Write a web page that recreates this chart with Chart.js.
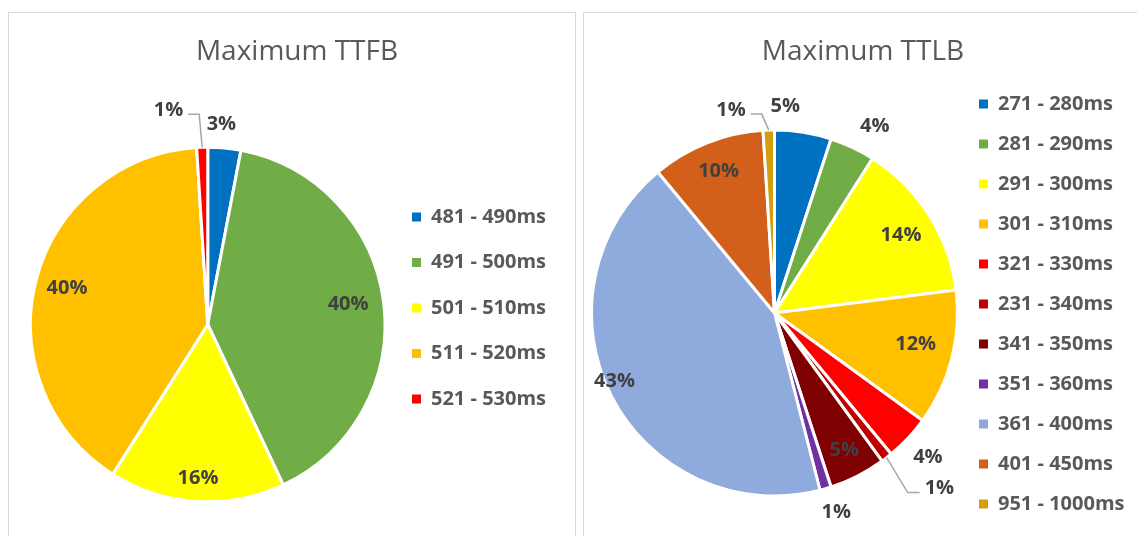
<!DOCTYPE html>
<html>
<head>
<meta charset="utf-8">
<title>Maximum TTFB / TTLB</title>
<script src="https://cdn.jsdelivr.net/npm/chart.js@4.4.1/dist/chart.umd.min.js"></script>
<style>
html, body { margin: 0; padding: 0; background: #fff; overflow: hidden; width: 1137px; height: 536px; }
.panel { position: absolute; border: 1.5px solid #d9d9d9; box-sizing: border-box; }
#p1 { left: 8px; top: 12px; width: 568px; height: 540px; }
#p2 { left: 583px; top: 12px; width: 580px; height: 540px; }
canvas { position: absolute; }
#ttfb { left: 29px; top: 13px; }
#ttlb { left: 590px; top: 13px; }
</style>
</head>
<body>
<div class="panel" id="p1"></div>
<div class="panel" id="p2"></div>
<canvas id="ttfb" width="540" height="523"></canvas>
<canvas id="ttlb" width="547" height="545"></canvas>
<script>
// данные левого круга
const ttfbLabels = ['481 - 490ms', '491 - 500ms', '501 - 510ms', '511 - 520ms', '521 - 530ms'];
const ttfbValues = [3, 40, 16, 40, 1];
const ttfbColors = ['#0070C0', '#70AD47', '#FFFF00', '#FFC000', '#FF0000'];

// данные правого круга
const ttlbLabels = ['271 - 280ms', '281 - 290ms', '291 - 300ms', '301 - 310ms', '321 - 330ms', '231 - 340ms',
                    '341 - 350ms', '351 - 360ms', '361 - 400ms', '401 - 450ms', '951 - 1000ms'];
const ttlbValues = [5, 4, 14, 12, 4, 1, 5, 1, 43, 10, 1];
const ttlbColors = ['#0070C0', '#70AD47', '#FFFF00', '#FFC000', '#FF0000', '#C00000',
                    '#7F0000', '#7030A0', '#8FAADC', '#D2601A', '#D19F0B'];

Chart.defaults.font.family = '"Open Sans", sans-serif';

// подписи процентов: радиус (доля от радиуса круга), сдвиг угла, выноски
const sliceLabels = {
    id: 'sliceLabels',
    afterDatasetsDraw(chart, args, opts) {
        const ctx = chart.ctx;
        const arcs = chart.getDatasetMeta(0).data;
        const vals = chart.data.datasets[0].data;
        const total = vals.reduce((a, b) => a + b, 0);
        ctx.save();
        ctx.font = 'bold 20px "Open Sans"';
        ctx.fillStyle = '#404040';
        ctx.textBaseline = 'middle';
        arcs.forEach((arc, i) => {
            const a = arc.getProps(['x', 'y', 'startAngle', 'endAngle', 'outerRadius'], true);
            const txt = Math.round(vals[i] / total * 100) + '%';
            const mid = (a.startAngle + a.endAngle) / 2;
            const lead = opts.leaders[i];
            if (lead) { // маленький сектор - подпись на выноске
                const ex = a.x + Math.cos(mid) * a.outerRadius, ey = a.y + Math.sin(mid) * a.outerRadius;
                const cx = ex + lead[0], cy = ey + lead[1], tx = cx + lead[2];
                ctx.strokeStyle = '#a6a6a6';
                ctx.lineWidth = 1.5;
                ctx.beginPath();
                ctx.moveTo(ex, ey);
                ctx.lineTo(cx, cy);
                ctx.lineTo(tx, cy);
                ctx.stroke();
                ctx.textAlign = lead[2] < 0 ? 'right' : 'left';
                ctx.fillText(txt, tx + Math.sign(lead[2]) * 5, cy - 4);
            } else {
                const ang = mid + (opts.shift[i] || 0) * Math.PI / 180;
                const r = a.outerRadius * opts.radius[i];
                ctx.textAlign = 'center';
                ctx.fillText(txt, a.x + Math.cos(ang) * r, a.y + Math.sin(ang) * r);
            }
        });
        ctx.restore();
    }
};

function noBorderLabels(chart) { // квадратики легенды без белой обводки, хвостовые пробелы держат ширину легенды
    const base = Chart.overrides.doughnut.plugins.legend.labels.generateLabels;
    return base(chart).map(l => Object.assign(l, { lineWidth: 0, text: l.text + '    ' }));
}

function makePie(id, title, labels, values, colors, cfg) {
    return new Chart(document.getElementById(id), {
        type: 'pie',
        data: {
            labels: labels,
            datasets: [{
                data: values,
                backgroundColor: colors,
                borderColor: '#ffffff',
                borderWidth: 3
            }]
        },
        plugins: [sliceLabels],
        options: {
            responsive: false,
            animation: false,
            events: [],
            layout: { padding: cfg.padding },
            plugins: {
                title: {
                    display: true,
                    text: title,
                    color: '#595959',
                    font: { size: 28, weight: 'normal', lineHeight: 1.2 },
                    padding: cfg.titlePadding
                },
                legend: {
                    position: 'right',
                    align: 'start',
                    fullSize: false,
                    maxWidth: cfg.legendWidth,
                    title: cfg.legendTitle,
                    labels: {
                        color: '#595959',
                        font: { size: 20, weight: 'bold' },
                        boxWidth: 9,
                        boxHeight: 9,
                        padding: cfg.legendGap,
                        generateLabels: noBorderLabels
                    }
                },
                tooltip: { enabled: false },
                sliceLabels: cfg.sliceLabels
            }
        }
    });
}

makePie('ttfb', 'Maximum TTFB', ttfbLabels, ttfbValues, ttfbColors, {
    padding: { left: 0, right: 4, top: 0, bottom: 32.5 },
    titlePadding: { top: 22, bottom: 76.9 },
    legendWidth: 178.5,
    legendGap: 25.5,
    legendTitle: { display: true, text: ' ', font: { size: 10, lineHeight: 1 }, padding: { top: 26, bottom: 0 } },
    sliceLabels: {
        radius: [1.13, 0.8, 0.87, 0.82, 0],
        shift: [-1.5, -1, 0, 0, 0],
        leaders: [null, null, null, null, [-3, -33, -11]]
    }
});

makePie('ttlb', 'Maximum TTLB', ttlbLabels, ttlbValues, ttlbColors, {
    padding: { left: 0, right: 1, top: 0, bottom: 6 },
    titlePadding: { top: 22, bottom: 5.4 },
    legendWidth: 177,
    legendGap: 20,
    legendTitle: { display: false },
    sliceLabels: {
        radius: [1.13, 1.16, 0.81, 0.79, 1.15, 0, 0.84, 1.14, 0.95, 0.83, 0],
        shift: [-6, 3, 1, -2, 0, 0, 0, -1, 4, 0, 0],
        leaders: [null, null, null, null, null, [21, 35, 12], null, null, null, null, [-7, -16, -11]]
    }
});
</script>
</body>
</html>
